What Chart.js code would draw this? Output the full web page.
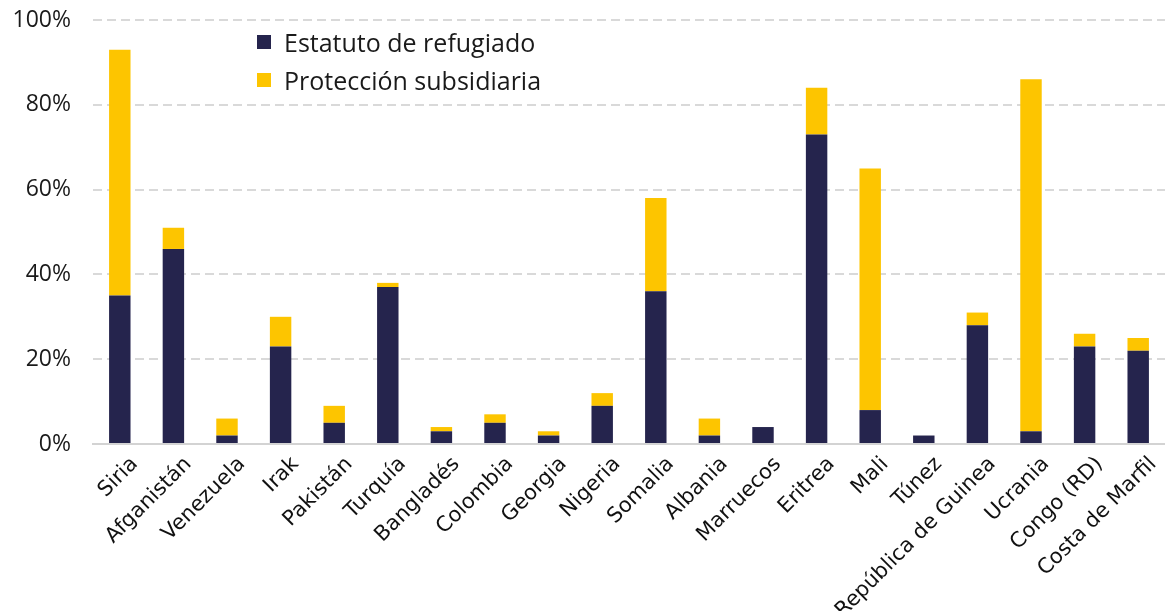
<!DOCTYPE html>
<html>
<head>
<meta charset="utf-8">
<script src="https://cdn.jsdelivr.net/npm/chart.js@4"></script>
<style>
  html, body { margin: 0; padding: 0; background: #fff; }
  #wrap { position: relative; width: 1165px; height: 611px; }
  #legend { position: absolute; left: 257px; top: 23px; font-family: "Open Sans", sans-serif; font-size: 25px; color: #1a1a1a; }
  #legend div { display: flex; align-items: center; height: 38px; }
  #legend span.sw { display: inline-block; width: 14px; height: 14px; margin-right: 13px; }
</style>
</head>
<body>
<div id="wrap">
  <canvas id="chart" width="1165" height="611"></canvas>
  <div id="legend"></div>
</div>
<script>
'use strict';
const countries = ['Siria', 'Afganistán', 'Venezuela', 'Irak', 'Pakistán', 'Turquía', 'Bangladés', 'Colombia',
  'Georgia', 'Nigeria', 'Somalia', 'Albania', 'Marruecos', 'Eritrea', 'Mali', 'Túnez', 'República de Guinea',
  'Ucrania', 'Congo (RD)', 'Costa de Marfil'];
const refugiado   = [35, 46, 2, 23, 5, 37, 3, 5, 2, 9, 36, 2, 4, 73, 8, 2, 28, 3, 23, 22];
const subsidiaria = [58, 5, 4, 7, 4, 1, 1, 2, 1, 3, 22, 4, 0, 11, 57, 0, 3, 83, 3, 3];
const yTicks = [0, 20, 40, 60, 80, 100];
const seriesNames = ['Estatuto de refugiado', 'Protección subsidiaria'];
const colors = ['#25244d', '#fdc500'];

document.getElementById('legend').innerHTML = seriesNames.map((n, i) =>
  `<div><span class="sw" style="background:${colors[i]}"></span>${n}</div>`).join('');

new Chart(document.getElementById('chart'), {
  type: 'bar',
  data: {
    labels: countries,
    datasets: [
      { label: seriesNames[0], data: refugiado, backgroundColor: colors[0] },
      { label: seriesNames[1], data: subsidiaria, backgroundColor: colors[1] },
    ],
  },
  options: {
    responsive: false,
    animation: false,
    layout: { padding: { top: 0, right: 0, left: 0, bottom: 0 } },
    plugins: { legend: { display: false }, tooltip: { enabled: false } },
    datasets: { bar: { categoryPercentage: 1, barPercentage: 0.4 } },
    scales: {
      x: {
        stacked: true,
        grid: { display: false },
        border: { display: true, color: '#d3d3d3', width: 2 },
        ticks: {
          color: '#111', padding: 0, labelOffset: 15, maxRotation: 45, minRotation: 45, autoSkip: false,
          font: { family: '"DejaVu Sans"', size: 21 },
        },
        afterFit: s => { s.height = 167; },
      },
      y: {
        stacked: true,
        min: 0, max: 100,
        afterBuildTicks: s => { s.ticks = yTicks.map(v => ({ value: v })); },
        grid: { color: '#d9d9d9', lineWidth: 2, drawTicks: false },
        border: { display: false, dash: [9, 5] },
        ticks: {
          color: '#1a1a1a', padding: 22,
          font: { family: 'Open Sans', size: 23, lineHeight: 1 },
          callback: v => v + '%',
        },
        afterFit: s => { s.width = 93; s.paddingTop = 20; },
      },
    },
  },
});
</script>
</body>
</html>
